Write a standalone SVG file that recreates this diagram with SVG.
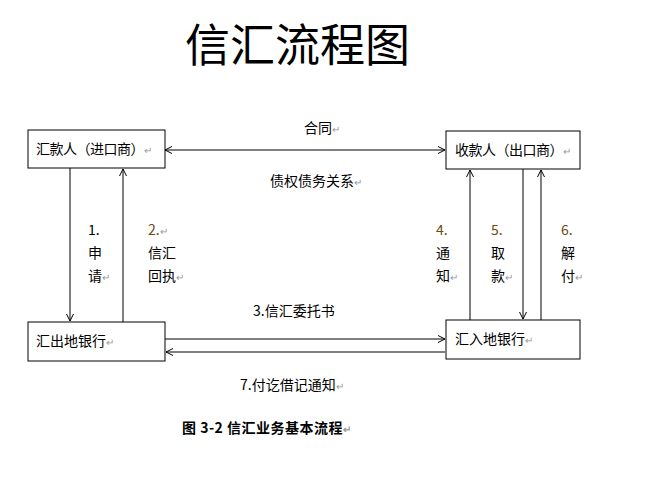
<svg xmlns="http://www.w3.org/2000/svg" width="658" height="489" viewBox="0 0 658 489">
<style>
text{font-family:"Noto Sans CJK SC","Liberation Sans",sans-serif;fill:#000;font-size:14px}
.box{fill:#fff;stroke:#000;stroke-width:1}
.ln{stroke:#000;stroke-width:1;fill:none}
.r{fill:#999;font-size:10px}
.o{fill:#6b4a10}
</style>
<defs>
<marker id="a" markerWidth="8" markerHeight="8" refX="7" refY="4" orient="auto-start-reverse" markerUnits="userSpaceOnUse"><path d="M0,0.5 L7,4 L0,7.5" fill="none" stroke="#000"/></marker>
</defs>
<rect width="658" height="489" fill="#fff"/>
<text x="185" y="62" style="font-size:45px">信汇流程图</text>
<g id="connectors">
<line class="ln" x1="165" y1="150" x2="445" y2="150" marker-start="url(#a)" marker-end="url(#a)"/>
<line class="ln" x1="70" y1="168" x2="70" y2="321" marker-end="url(#a)"/>
<line class="ln" x1="123" y1="322" x2="123" y2="169" marker-end="url(#a)"/>
<line class="ln" x1="470" y1="320" x2="470" y2="170" marker-end="url(#a)"/>
<line class="ln" x1="523" y1="169" x2="523" y2="319" marker-end="url(#a)"/>
<line class="ln" x1="541" y1="320" x2="541" y2="170" marker-end="url(#a)"/>
<line class="ln" x1="165" y1="339" x2="445" y2="339" marker-end="url(#a)"/>
<line class="ln" x1="445" y1="352" x2="166" y2="352" marker-end="url(#a)"/>
<text x="304" y="133">合同<tspan class="r">↵</tspan></text>
<text x="270" y="186">债权债务关系<tspan class="r">↵</tspan></text>
<text x="88" y="235">1.</text><text x="88" y="258">申</text><text x="88" y="281">请<tspan class="r">↵</tspan></text>
<text x="148" y="235" class="o">2.<tspan class="r">↵</tspan></text><text x="148" y="258">信汇</text><text x="148" y="281">回执<tspan class="r">↵</tspan></text>
<text x="436" y="235" class="o">4.</text><text x="436" y="258">通</text><text x="436" y="281">知<tspan class="r">↵</tspan></text>
<text x="491" y="235" class="o">5.</text><text x="491" y="258">取</text><text x="491" y="281">款<tspan class="r">↵</tspan></text>
<text x="561" y="235" class="o">6.</text><text x="561" y="258">解</text><text x="561" y="281">付<tspan class="r">↵</tspan></text>
<text x="253" y="316">3.信汇委托书</text>
<text x="240" y="390">7.付讫借记通知<tspan class="r">↵</tspan></text>
</g>
<g id="n1"><rect class="box" x="28" y="130" width="137" height="38"/><text x="36" y="154" letter-spacing="-0.5">汇款人（进口商）<tspan class="r">↵</tspan></text></g>
<g id="n2"><rect class="box" x="446" y="131" width="134" height="38"/><text x="455" y="155" letter-spacing="-0.5">收款人（出口商）<tspan class="r">↵</tspan></text></g>
<g id="n3"><rect class="box" x="28" y="322" width="137" height="39"/><text x="36" y="346">汇出地银行<tspan class="r">↵</tspan></text></g>
<g id="n4"><rect class="box" x="446" y="320" width="134" height="39"/><text x="455" y="344">汇入地银行<tspan class="r">↵</tspan></text></g>
<text x="182" y="433" style="font-weight:bold;font-size:14px" letter-spacing="0.5">图 3-2  信汇业务基本流程<tspan class="r">↵</tspan></text>
</svg>
